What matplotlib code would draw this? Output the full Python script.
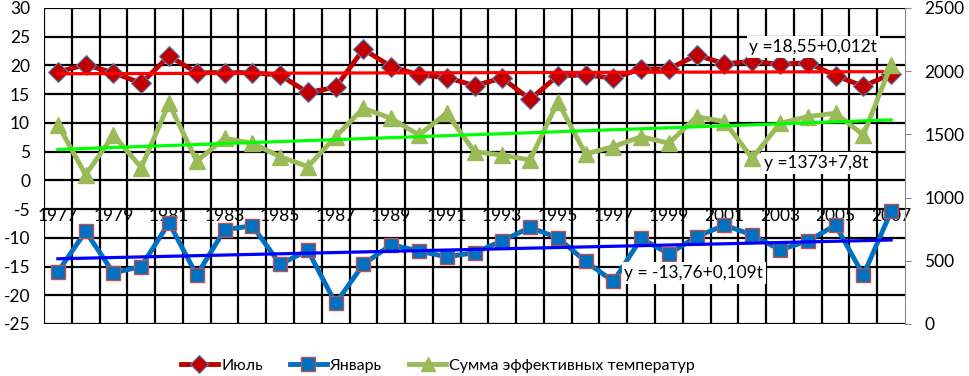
import numpy as np
import matplotlib.pyplot as plt
from matplotlib.lines import Line2D

plt.rcParams['font.family'] = ['Lato', 'DejaVu Sans']
plt.rcParams['axes.unicode_minus'] = False

# данные
years = list(range(1977, 2008))
july = [18.9, 20.1, 18.75, 16.9, 21.65, 18.75, 18.75, 18.75, 18.3, 15.3,
        16.2, 22.8, 19.8, 18.35, 17.9, 16.5, 17.8, 14.1, 18.2, 18.35,
        17.8, 19.4, 19.4, 21.8, 20.3, 20.7, 20.2, 20.5, 18.2, 16.4, 18.5]
january = [-15.9, -8.9, -16.1, -15.0, -7.4, -16.5, -8.6, -7.9, -14.6, -12.2,
           -21.4, -14.6, -11.2, -12.3, -13.3, -12.6, -10.5, -8.2, -10.0, -14.1,
           -17.6, -10.1, -12.8, -9.8, -7.8, -9.5, -12.1, -10.55, -7.8, -16.5, -5.4]
summa = [1578, 1180, 1495, 1238, 1745, 1288, 1469, 1430, 1324, 1245,
         1482, 1707, 1627, 1495, 1668, 1363, 1336, 1298, 1759, 1345,
         1403, 1482, 1430, 1641, 1600, 1311, 1588, 1641, 1668, 1495, 2050]
trend_july = (18.55, 0.012)
trend_jan = (-13.76, 0.109)
trend_sum = (1373, 7.8)

x = np.arange(len(years))
t = x + 1

fig = plt.figure(figsize=(9.69, 3.76), dpi=100)
ax = fig.add_axes([44/969, 1-324/376, (905-44)/969, (324-8)/376])
ax2 = ax.twinx()

# сетка
ax.set_xlim(-0.5, len(years)-0.5)
ax.set_ylim(-25, 30)
ax.set_yticks(range(-25, 31, 5))
for k in range(len(years)):
    ax.axvline(k-0.5, color='black', lw=1.6, zorder=0)
for v in range(-25, 31, 5):
    ax.axhline(v, color='black', lw=1.6, zorder=0)

ax.plot(x, july, '-D', color='#C00000', lw=3.5, ms=10,
        mec='#4F81BD', mew=0.8, zorder=3)
ax.plot(x, january, '-s', color='#0070C0', lw=3.5, ms=10.5,
        mec='#C0504D', mew=1, zorder=3)
ax.plot(x, trend_july[0]+trend_july[1]*t, color='#FF0000', lw=2.3, zorder=4)
ax.plot(x, trend_jan[0]+trend_jan[1]*t, color='#0000FF', lw=2.3, zorder=4)

ax2.set_ylim(0, 2500)
ax2.set_yticks(range(0, 2501, 500))
ax2.plot(x, summa, '-^', color='#9BBB59', lw=3.5, ms=12, zorder=3)
ax2.plot(x, trend_sum[0]+trend_sum[1]*t, color='#00FF00', lw=2.3, zorder=4)

# подписи трендов
box = dict(facecolor='white', edgecolor='none', pad=2)
ax2.text(27.2, 23.2, 'y =18,55+0,012t', transform=ax.transData, fontsize=12.5,
         ha='center', va='center', bbox=box, zorder=6)
ax2.text(27.3, 3.0, 'y =1373+7,8t', transform=ax.transData, fontsize=12.5,
         ha='center', va='center', bbox=box, zorder=6)
ax2.text(22.9, -16.1, 'y = -13,76+0,109t', transform=ax.transData, fontsize=12.5,
         ha='center', va='center', bbox=box, zorder=6)

# оси
ax.set_xticks(x[::2])
ax.set_xticklabels([str(y) for y in years[::2]])
ax.spines['bottom'].set_position(('data', 0))
for s in ['top', 'right', 'left', 'bottom']:
    ax.spines[s].set_visible(False)
for s in ['top', 'left', 'bottom']:
    ax2.spines[s].set_visible(False)
ax2.spines['right'].set_color('#868686')
ax.tick_params(axis='x', length=0, pad=20, labelsize=12.5)
ax.tick_params(axis='y', length=0, pad=10, labelsize=12.5)
ax2.tick_params(axis='y', length=4, color='#868686', pad=10, labelsize=12.5)

handles = [
    Line2D([], [], color='#C00000', lw=3.5, marker='D', ms=9, mec='#4F81BD', mew=0.8),
    Line2D([], [], color='#0070C0', lw=3.5, marker='s', ms=9.5, mec='#C0504D', mew=1),
    Line2D([], [], color='#9BBB59', lw=3.5, marker='^', ms=10),
]
fig.legend(handles, ['Июль', 'Январь', 'Сумма эффективных температур'],
           loc='center', bbox_to_anchor=(0.452, 0.027), ncol=3, frameon=False,
           fontsize=11.5, handlelength=2.3, columnspacing=1.7, handletextpad=0.2)

fig.savefig('out.png', dpi=100)
